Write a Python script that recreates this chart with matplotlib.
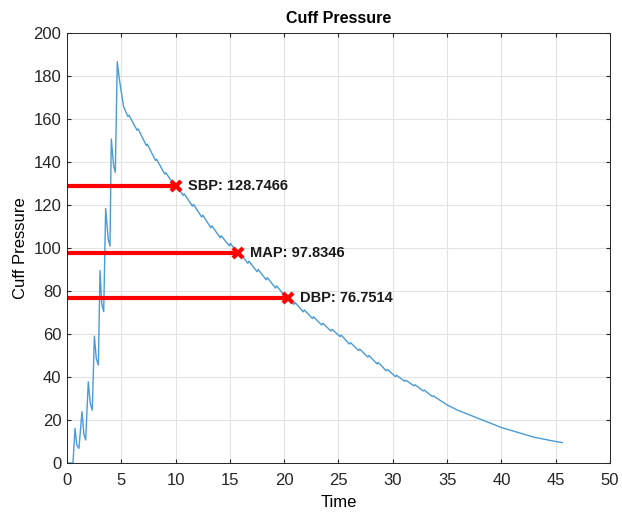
import numpy as np
import matplotlib.pyplot as plt

plt.rcParams['font.family'] = ['Liberation Sans', 'DejaVu Sans']

# cuff pressure trace (time in s, pressure in mmHg)
time = [0, 0.55, 0.74, 0.9, 1.1, 1.38, 1.55, 1.72, 1.96, 2.15, 2.33, 2.52, 2.7, 2.89,
        3.04, 3.2, 3.38, 3.56, 3.8, 3.96, 4.08, 4.3, 4.45, 4.63, 4.82, 5.2,
        5.6, 5.7, 6.45, 6.55, 7.3, 7.4, 8.15, 8.25, 9.0, 9.1, 9.85, 9.95,
        10.7, 10.8, 11.55, 11.65, 12.4, 12.5, 13.25, 13.35, 14.1, 14.2,
        14.95, 15.05, 15.8, 15.9, 16.65, 16.75, 17.5, 17.6, 18.35, 18.45,
        19.2, 19.3, 20.05, 20.15, 20.9, 21.0, 21.75, 21.85, 22.6, 22.7,
        23.45, 23.55, 24.3, 24.4, 25.15, 25.25, 26.0, 26.1, 26.85, 26.95,
        27.7, 27.8, 28.55, 28.65, 29.4, 29.5, 30.25, 30.35, 31.1, 31.2,
        31.95, 32.05, 32.8, 32.9, 33.65, 33.75,
        35, 36, 37, 38, 39, 40, 41, 42, 43, 44, 45, 45.6]
pressure = [0, 0, 16.1, 8.5, 6.8, 23.9, 13.5, 10.7, 37.8, 27.5, 24.6, 59, 48.5, 45.6,
            89.5, 74.0, 70.4, 118.4, 104.0, 100.9, 150.7, 138.0, 135.2, 186.7, 178.5, 166,
            161.2, 161.8, 154.8, 155.4, 147.7, 148.3, 140.7, 141.3, 134.4, 135.0, 129.4, 130.0,
            124.5, 125.2, 119.5, 120.3, 114.4, 115.3, 109.4, 110.3, 104.8, 105.7,
            101.0, 102.2, 96.8, 97.8, 92.9, 93.9, 89.0, 90.0, 85.2, 86.2,
            81.4, 82.4, 77.8, 78.7, 73.8, 74.7, 70.3, 71.2, 67.2, 68.0,
            64.2, 65.0, 61.4, 62.2, 58.8, 59.5, 55.3, 56.0, 52.3, 53.0,
            49.3, 50.0, 46.1, 46.8, 42.9, 43.5, 40.2, 40.8, 38.0, 38.5,
            35.9, 36.4, 33.5, 33.9, 30.9, 31.2,
            27, 24.5, 22.5, 20.5, 18.5, 16.5, 15, 13.5, 12, 11, 10, 9.5]

labels = ['SBP', 'MAP', 'DBP']
bp_time = [10.04, 15.75, 20.35]
bp_value = [128.7466, 97.8346, 76.7514]

fig = plt.figure(figsize=(6.22, 5.16), dpi=100)
ax = fig.add_axes([0.1077, 0.1027, 0.873, 0.8333])

ax.plot(time, pressure, color='#4A9BD6', lw=1.0)
for lab, t, v in zip(labels, bp_time, bp_value):
    ax.plot([0, t], [v, v], color='red', lw=3, solid_capstyle='butt')
    ax.plot(t, v, 'x', color='red', ms=7, mew=3)
    ax.text(t + 1.1, v, '%s: %.4f' % (lab, v), fontsize=10.5, fontweight='bold',
            va='center', ha='left', color='#1a1a1a')

ax.set_xlim(0, 50)
ax.set_ylim(0, 200)
ax.set_xticks(np.arange(0, 51, 5))
ax.set_yticks(np.arange(0, 201, 20))
ax.grid(True, color='#e3e3e3', lw=0.8)
ax.set_axisbelow(True)
ax.tick_params(direction='in', labelsize=12, colors='#262626', length=3,
               top=True, right=True, pad=4)
ax.tick_params(axis='x', pad=7)
for s in ax.spines.values():
    s.set_color('#262626')
    s.set_linewidth(0.7)
ax.set_title('Cuff Pressure', fontsize=11.5, fontweight='bold', pad=7)
ax.set_xlabel('Time', fontsize=12, labelpad=5)
ax.set_ylabel('Cuff Pressure', fontsize=12, labelpad=4)

fig.savefig('out.png', dpi=100)
